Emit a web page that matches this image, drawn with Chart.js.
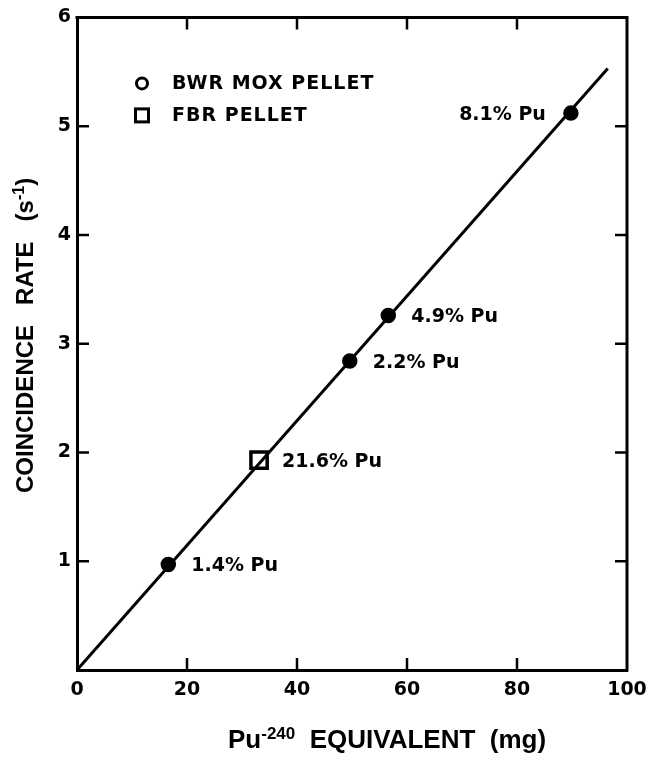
<!DOCTYPE html>
<html>
<head>
<meta charset="utf-8">
<script src="https://cdn.jsdelivr.net/npm/chart.js@4/dist/chart.umd.min.js"></script>
<style>
  html, body { margin: 0; padding: 0; background: #fff; }
  #wrap { width: 665px; height: 760px; position: relative; }
</style>
</head>
<body>
<div id="wrap"><canvas id="c" width="665" height="760"></canvas></div>
<script>
// Axis ticks
const xTicks = [0, 20, 40, 60, 80, 100];
const yTicks = [1, 2, 3, 4, 5, 6];

// BWR MOX pellets: Pu-240 equivalent (mg) vs coincidence rate (1/s)
const bwrMass = [16.6, 49.6, 56.6, 89.8];
const bwrRate = [0.97, 2.84, 3.26, 5.12];
const bwrLabels = ['1.4% Pu', '2.2% Pu', '4.9% Pu', '8.1% Pu'];

// FBR pellet
const fbrMass = [33.1];
const fbrRate = [1.93];
const fbrLabels = ['21.6% Pu'];

// Calibration line through the origin
const fitMass = [0, 96.5];
const fitRate = [0, 5.53];

const toXY = (xs, ys) => xs.map((x, i) => ({ x, y: ys[i] }));

const INK = '#000';
const NOTE_FONT = 'bold 19px "DejaVu Sans", sans-serif';
const TITLE_FAMILY = '"Liberation Sans", Arial, sans-serif';

// Frame on the top and right plus inward tick marks on all four sides
const framePlugin = {
  id: 'frame',
  beforeDatasetsDraw(chart) {
    const { ctx, chartArea: a, scales } = chart;
    ctx.save();
    ctx.strokeStyle = INK;
    ctx.lineWidth = 3;
    ctx.lineCap = 'square';
    ctx.beginPath();
    ctx.moveTo(a.left, a.top);
    ctx.lineTo(a.right, a.top);
    ctx.lineTo(a.right, a.bottom);
    ctx.stroke();
    ctx.lineWidth = 2.5;
    ctx.lineCap = 'butt';
    const len = 12;
    ctx.beginPath();
    xTicks.slice(1, -1).forEach(v => {
      const px = scales.x.getPixelForValue(v);
      ctx.moveTo(px, a.bottom); ctx.lineTo(px, a.bottom - len);
      ctx.moveTo(px, a.top); ctx.lineTo(px, a.top + len);
    });
    yTicks.slice(0, -1).forEach(v => {
      const py = scales.y.getPixelForValue(v);
      ctx.moveTo(a.left, py); ctx.lineTo(a.left + len, py);
      ctx.moveTo(a.right, py); ctx.lineTo(a.right - len, py);
    });
    ctx.stroke();
    ctx.restore();
  }
};

// Labels beside each measured point
const pointNotePlugin = {
  id: 'pointNotes',
  afterDatasetsDraw(chart) {
    const { ctx } = chart;
    ctx.save();
    ctx.fillStyle = INK;
    ctx.font = NOTE_FONT;
    ctx.textBaseline = 'middle';
    chart.data.datasets.forEach((ds, i) => {
      if (!ds.notes) return;
      const meta = chart.getDatasetMeta(i);
      meta.data.forEach((el, j) => {
        const side = ds.noteSide ? ds.noteSide[j] : 'right';
        if (side === 'left') {
          ctx.textAlign = 'right';
          ctx.fillText(ds.notes[j], el.x - 25, el.y + 2);
        } else {
          ctx.textAlign = 'left';
          ctx.fillText(ds.notes[j], el.x + 23, el.y + 2);
        }
      });
    });
    ctx.restore();
  }
};

// Key in the upper-left of the plot
const keyPlugin = {
  id: 'key',
  afterDatasetsDraw(chart) {
    const { ctx, chartArea: a } = chart;
    const x0 = a.left + 65, y1 = a.top + 66, y2 = a.top + 98;
    ctx.save();
    ctx.strokeStyle = INK;
    ctx.lineWidth = 3;
    ctx.beginPath();
    ctx.arc(x0, y1, 5.5, 0, Math.PI * 2);
    ctx.stroke();
    ctx.strokeRect(x0 - 6.5, y2 - 6.5, 13, 13);
    ctx.fillStyle = INK;
    ctx.font = NOTE_FONT;
    ctx.textAlign = 'left';
    ctx.textBaseline = 'middle';
    try { ctx.letterSpacing = '1px'; } catch (e) {}
    ctx.fillText(chart.data.datasets[1].label, x0 + 30, y1 + 1);
    ctx.fillText(chart.data.datasets[2].label, x0 + 30, y2 + 1);
    ctx.restore();
  }
};

// Draws a run of text pieces, some as superscripts
function measureRuns(ctx, runs, size) {
  let w = 0;
  runs.forEach(r => {
    ctx.font = `bold ${r.sup ? Math.round(size * 0.65) : size}px ${TITLE_FAMILY}`;
    w += ctx.measureText(r.t).width;
  });
  return w;
}
function drawRuns(ctx, runs, x, y, size) {
  runs.forEach(r => {
    ctx.font = `bold ${r.sup ? Math.round(size * 0.65) : size}px ${TITLE_FAMILY}`;
    ctx.fillText(r.t, x, r.sup ? y - size * 0.36 : y);
    x += ctx.measureText(r.t).width;
  });
}

const xTitleRuns = [{ t: 'Pu' }, { t: '-240', sup: true }, { t: '  EQUIVALENT  (mg)' }];
const yTitleRuns = [{ t: 'COINCIDENCE   RATE   (s' }, { t: '-1', sup: true }, { t: ')' }];

const titlePlugin = {
  id: 'axisTitles',
  afterDraw(chart) {
    const { ctx, chartArea: a } = chart;
    ctx.save();
    ctx.fillStyle = INK;
    ctx.textAlign = 'left';
    ctx.textBaseline = 'alphabetic';
    // horizontal title under the x axis
    drawRuns(ctx, xTitleRuns, a.left + 151, a.bottom + 78, 26);
    // vertical title left of the y axis
    const w = measureRuns(ctx, yTitleRuns, 24);
    ctx.translate(a.left - 44, a.top + 318);
    ctx.rotate(-Math.PI / 2);
    drawRuns(ctx, yTitleRuns, -w / 2, 0, 24);
    ctx.restore();
  }
};

new Chart(document.getElementById('c'), {
  type: 'scatter',
  data: {
    datasets: [
      {
        label: 'fit',
        data: toXY(fitMass, fitRate),
        showLine: true,
        borderColor: INK,
        borderWidth: 3,
        pointRadius: 0,
        fill: false,
        order: 3
      },
      {
        label: 'BWR MOX PELLET',
        data: toXY(bwrMass, bwrRate),
        notes: bwrLabels,
        noteSide: ['right', 'right', 'right', 'left'],
        pointStyle: 'circle',
        pointRadius: 7,
        backgroundColor: INK,
        borderColor: INK,
        borderWidth: 1.5,
        order: 1
      },
      {
        label: 'FBR PELLET',
        data: toXY(fbrMass, fbrRate),
        notes: fbrLabels,
        pointStyle: 'rect',
        pointRadius: 11.5,
        backgroundColor: 'rgba(0,0,0,0)',
        borderColor: INK,
        borderWidth: 3.5,
        order: 2
      }
    ]
  },
  options: {
    responsive: false,
    animation: false,
    layout: { padding: { left: 0, right: 38, top: 12, bottom: 0 } },
    plugins: {
      legend: { display: false },
      tooltip: { enabled: false },
      title: { display: false }
    },
    scales: {
      x: {
        type: 'linear',
        min: 0,
        max: 100,
        afterBuildTicks: s => { s.ticks = xTicks.map(v => ({ value: v })); },
        afterFit: s => { s.height = 90; },
        grid: { display: false, drawTicks: false },
        border: { display: true, color: INK, width: 3 },
        ticks: { color: INK, font: { family: '"DejaVu Sans", sans-serif', size: 19, weight: 'bold' }, padding: 9, maxRotation: 0 }
      },
      y: {
        type: 'linear',
        min: 0,
        max: 6,
        afterBuildTicks: s => { s.ticks = yTicks.map(v => ({ value: v })); },
        afterFit: s => { s.width = 77; },
        grid: { display: false, drawTicks: false },
        border: { display: true, color: INK, width: 3 },
        ticks: { color: INK, font: { family: '"DejaVu Sans", sans-serif', size: 19, weight: 'bold' }, padding: 6 }
      }
    }
  },
  plugins: [framePlugin, pointNotePlugin, keyPlugin, titlePlugin]
});
</script>
</body>
</html>
